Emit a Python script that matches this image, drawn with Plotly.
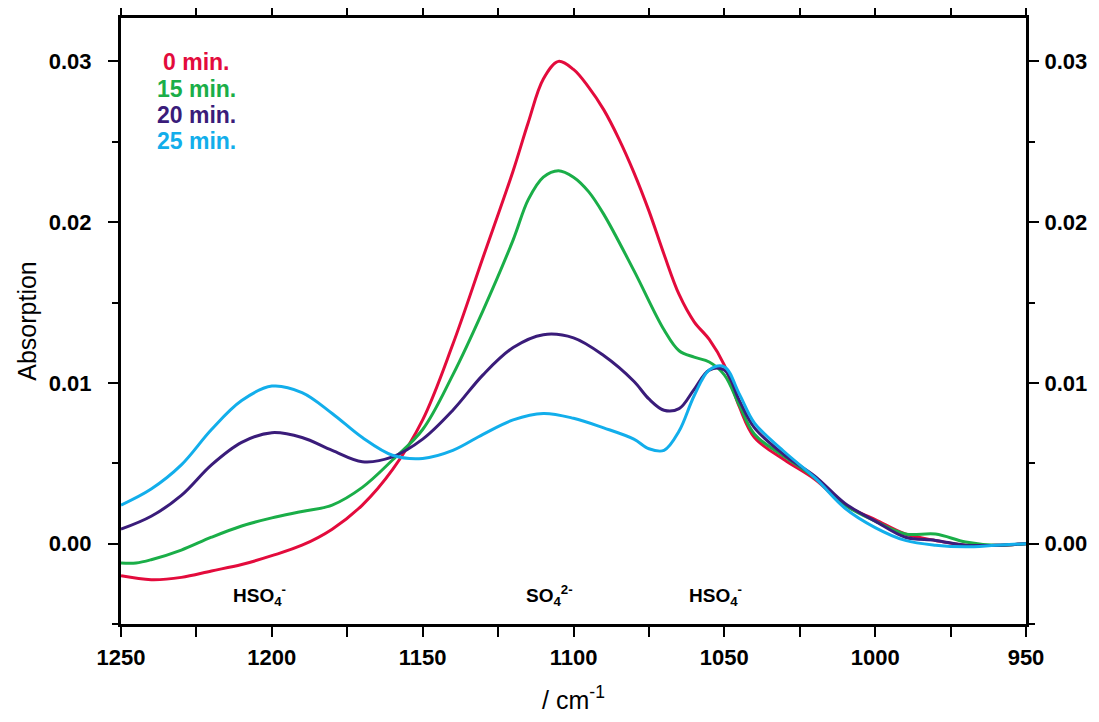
import plotly.graph_objects as go

wavenumber_red = [1250, 1240, 1230, 1220, 1210, 1200, 1190, 1180, 1170, 1160, 1150, 1140, 1130, 1120, 1115, 1110, 1105, 1100, 1095, 1090, 1085, 1080, 1075, 1070, 1065, 1060, 1055, 1050, 1045, 1040, 1030, 1020, 1010, 1000, 990, 980, 970, 960, 950]
abs_0min = [-0.0020, -0.00224, -0.0021, -0.0017, -0.0013, -0.00075, -0.0001, 0.0009, 0.0024, 0.0046, 0.0077, 0.0124, 0.0178, 0.0232, 0.0262, 0.0289, 0.0300, 0.0295, 0.0284, 0.0270, 0.0252, 0.0231, 0.0207, 0.0180, 0.0155, 0.0138, 0.0127, 0.0111, 0.0085, 0.0066, 0.0052, 0.0040, 0.0024, 0.0015, 0.0006, 0.0002, -0.0001, -0.0001, 0.0]

wavenumber_green = [1250, 1245, 1240, 1230, 1220, 1210, 1200, 1190, 1180, 1170, 1160, 1150, 1140, 1130, 1120, 1115, 1110, 1105, 1100, 1095, 1090, 1080, 1070, 1065, 1060, 1055, 1050, 1045, 1040, 1030, 1020, 1010, 1000, 990, 980, 970, 960, 950]
abs_15min = [-0.0012, -0.0012, -0.0010, -0.0004, 0.0004, 0.0011, 0.0016, 0.0020, 0.0024, 0.0035, 0.0052, 0.0071, 0.0105, 0.0145, 0.0189, 0.0214, 0.0228, 0.0232, 0.0228, 0.0219, 0.0205, 0.0170, 0.0133, 0.0120, 0.0116, 0.0113, 0.0105, 0.0086, 0.0068, 0.0054, 0.0041, 0.0024, 0.0014, 0.0006, 0.0006, 0.0001, -0.0001, 0.0]

wavenumber_purple = [1250, 1240, 1230, 1220, 1210, 1200, 1190, 1180, 1170, 1160, 1150, 1140, 1130, 1120, 1110, 1100, 1090, 1080, 1075, 1070, 1065, 1060, 1055, 1050, 1045, 1040, 1030, 1020, 1010, 1000, 990, 980, 970, 960, 950]
abs_20min = [0.0009, 0.0017, 0.0030, 0.0049, 0.0063, 0.0069, 0.0066, 0.0058, 0.0051, 0.0054, 0.0065, 0.0083, 0.0105, 0.0122, 0.0130, 0.0128, 0.0117, 0.0101, 0.0090, 0.0083, 0.0084, 0.0096, 0.0108, 0.0108, 0.0089, 0.0072, 0.0055, 0.0042, 0.0025, 0.0014, 0.0004, 0.0002, -0.0001, -0.0001, 0.0]

wavenumber_blue = [1250, 1240, 1230, 1220, 1210, 1200, 1190, 1180, 1170, 1160, 1150, 1140, 1130, 1120, 1110, 1100, 1090, 1080, 1075, 1070, 1065, 1060, 1055, 1050, 1045, 1040, 1030, 1020, 1010, 1000, 990, 980, 970, 960, 950]
abs_25min = [0.0024, 0.0034, 0.0049, 0.0071, 0.0089, 0.0098, 0.0094, 0.0081, 0.0066, 0.0055, 0.0053, 0.0058, 0.0068, 0.0077, 0.0081, 0.0078, 0.0072, 0.0065, 0.0059, 0.0058, 0.0070, 0.0092, 0.0108, 0.0110, 0.0093, 0.0075, 0.0057, 0.0041, 0.0022, 0.0010, 0.0002, -0.0001, -0.0002, -0.0001, 0.0]

series_labels = ["0 min.", "15 min.", "20 min.", "25 min."]
series_colors = ["#E30B3C", "#1AAE48", "#3A1C7A", "#12AEEB"]

band_labels = ["HSO<sub>4</sub><sup>-</sup>", "SO<sub>4</sub><sup>2-</sup>", "HSO<sub>4</sub><sup>-</sup>"]
band_positions = [1204, 1108, 1053]

x_ticks = [1250, 1200, 1150, 1100, 1050, 1000, 950]
y_ticks = [0.00, 0.01, 0.02, 0.03]

FONT = "Liberation Sans, Arial, sans-serif"

fig = go.Figure()
data = [(wavenumber_red, abs_0min), (wavenumber_green, abs_15min),
        (wavenumber_purple, abs_20min), (wavenumber_blue, abs_25min)]
for (xs, ys), name, col in zip(data, series_labels, series_colors):
    fig.add_trace(go.Scatter(x=xs, y=ys, mode="lines", name=name,
                             line=dict(color=col, width=3, shape="spline", smoothing=1.0),
                             showlegend=False))

# invisible trace to activate the right axis
fig.add_trace(go.Scatter(x=[1250], y=[0], yaxis="y2", mode="markers",
                         marker=dict(opacity=0), showlegend=False, hoverinfo="skip"))

for i, (name, col) in enumerate(zip(series_labels, series_colors)):
    fig.add_annotation(x=0.083, y=0.927 - i * 0.0435, xref="paper", yref="paper",
                       text=f"<b>{name}</b>", showarrow=False, xanchor="center", yanchor="middle",
                       font=dict(family=FONT, size=23, color=col))

for lbl, pos in zip(band_labels, band_positions):
    fig.add_annotation(x=pos, y=-0.0032, xref="x", yref="y", text=f"<b>{lbl}</b>",
                       showarrow=False, xanchor="center", yanchor="middle",
                       font=dict(family=FONT, size=19, color="black"))

y_range = [-0.005, 0.0327]
tick_font = dict(family=FONT, size=22, color="black", weight="bold")
axis_common = dict(showgrid=False, zeroline=False, showline=True, linecolor="black", linewidth=3,
                   ticks="outside", ticklen=10, tickwidth=2, tickcolor="black",
                   tickfont=tick_font, automargin=False)

fig.update_layout(
    width=1083, height=706,
    margin=dict(l=113, r=65, t=10, b=90),
    paper_bgcolor="white", plot_bgcolor="white",
    xaxis=dict(**axis_common, range=[1250, 950], tickvals=x_ticks, mirror="allticks",
               ticklabelstandoff=2,
               minor=dict(dtick=25, tick0=950, ticks="outside", ticklen=6, tickwidth=2, tickcolor="black"),
               title=dict(text="/ cm<sup>-1</sup>", font=dict(family=FONT, size=25, color="black"), standoff=32)),
    yaxis=dict(**axis_common, range=y_range, tickvals=y_ticks, tickformat=".2f",
               ticklabelstandoff=12,
               minor=dict(dtick=0.005, tick0=0, ticks="outside", ticklen=6, tickwidth=2, tickcolor="black"),
               title=dict(text="Absorption", font=dict(family=FONT, size=25, color="black"), standoff=6)),
    yaxis2=dict(**axis_common, range=y_range, tickvals=y_ticks, tickformat=".2f",
                overlaying="y", side="right", anchor="x", ticklabelstandoff=1,
                minor=dict(dtick=0.005, tick0=0, ticks="outside", ticklen=6, tickwidth=2, tickcolor="black")),
)

fig.write_html("out.html")
